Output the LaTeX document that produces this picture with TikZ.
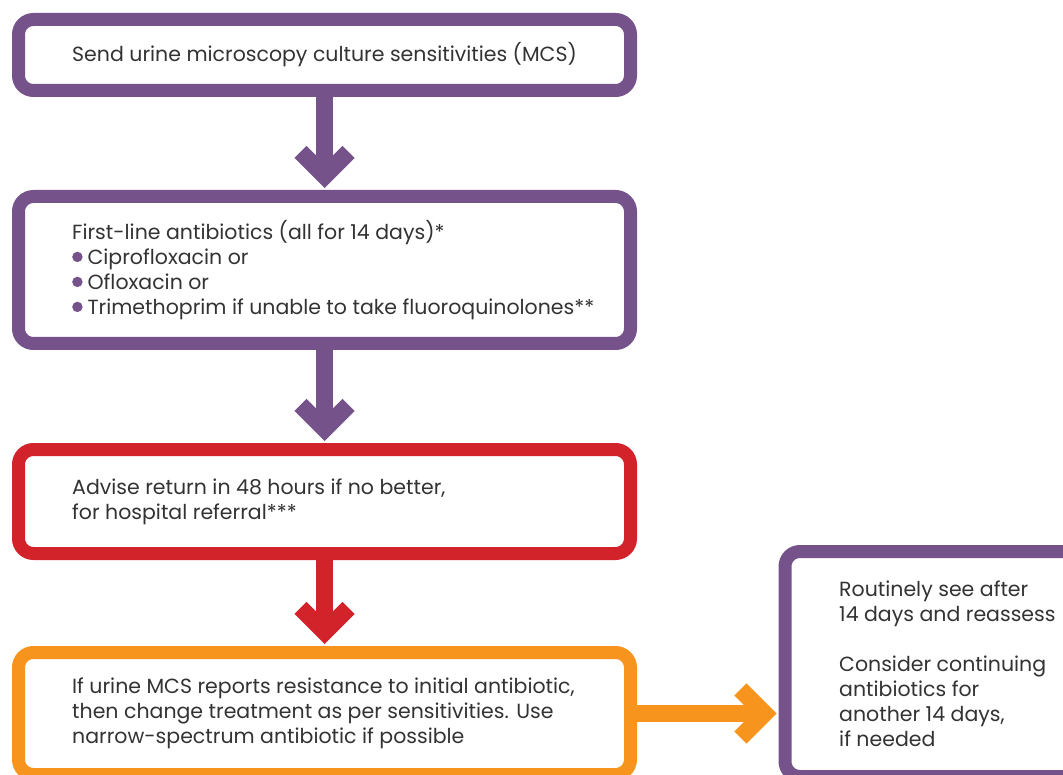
\documentclass[tikz,border=0pt]{standalone}
\usepackage{fontspec}
\setmainfont{Poppins}
\usetikzlibrary{arrows.meta}

\definecolor{mcspurple}{HTML}{76528B}
\definecolor{mcsred}{HTML}{D2232A}
\definecolor{mcsorange}{HTML}{F7941E}
\definecolor{mcstext}{HTML}{333333}

\newcommand{\blt}{\tikz[baseline=-7.5pt] \fill[mcspurple] (0,0) circle (5.2pt);\hspace{5pt}}

\begin{document}
\begin{tikzpicture}[x=1pt,y=-1pt,
    box/.style={rectangle, rounded corners=15pt, line width=13pt, fill=white, inner sep=0pt},
    txt/.style={anchor=west, align=left, inner sep=0pt, text=mcstext, font=\fontsize{20.5}{25}\selectfont},
    flow/.style={line width=17pt, shorten >=2pt, -{Straight Barb[length=24pt,width=48pt]}}]

    \useasboundingbox (0,0) rectangle (1063,775);

    % boxes
    \node[box, draw=mcspurple, minimum width=612pt, minimum height=71pt] (send) at (324.5,55) {};
    \node[box, draw=mcspurple, minimum width=612pt, minimum height=147pt] (first) at (324.5,270) {};
    \node[box, draw=mcsred, minimum width=612pt, minimum height=104pt] (advise) at (324.5,501.5) {};
    \node[box, draw=mcsorange, minimum width=612pt, minimum height=122pt] (change) at (324.5,713.5) {};
    \node[box, draw=mcspurple, minimum width=325pt, minimum height=225pt] (review) at (947.5,664) {};

    % texts
    \node[txt] (sendtxt) at ([xshift=60pt]send.west) {Send urine microscopy culture sensitivities (MCS)};
    \node[txt] (firsttxt) at ([xshift=60pt]first.west) {First-line antibiotics (all for 14 days)*\\
        \blt Ciprofloxacin or\\
        \blt Ofloxacin or\\
        \blt Trimethoprim if unable to take fluoroquinolones**};
    \node[txt] (advisetxt) at ([xshift=60pt]advise.west) {Advise return in 48 hours if no better,\\
        for hospital referral***};
    \node[txt] (changetxt) at ([xshift=60pt]change.west) {If urine MCS reports resistance to initial antibiotic,\\
        then change treatment as per sensitivities. Use\\
        narrow-spectrum antibiotic if possible};
    \node[txt] (reviewtxt) at ([xshift=60.5pt]review.west) {Routinely see after\\
        14 days and reassess\\[25pt]
        Consider continuing\\
        antibiotics for\\
        another 14 days,\\
        if needed};

    % arrows
    \draw[flow, mcspurple] (send) -- (first);
    \draw[flow, mcspurple] (first) -- (advise);
    \draw[flow, mcsred] (advise) -- (change);
    \draw[flow, mcsorange] (change) -- (change -| review.west);

\end{tikzpicture}
\end{document}
